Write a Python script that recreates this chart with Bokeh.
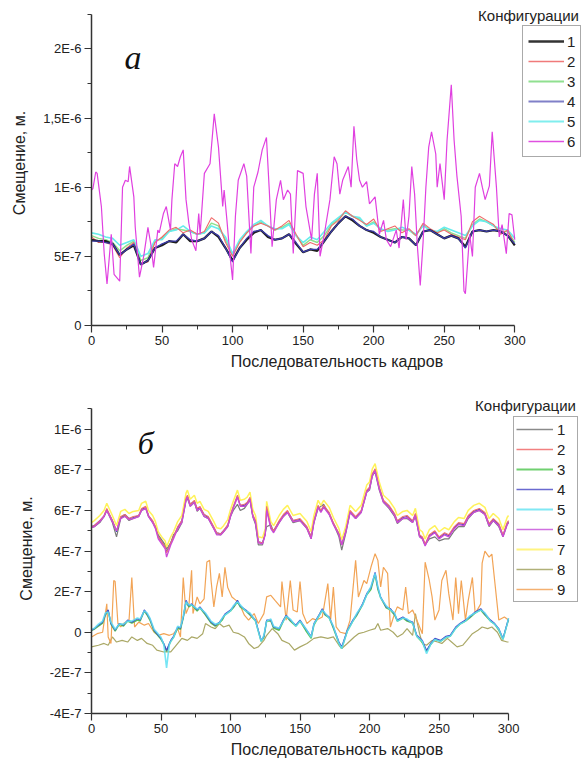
from bokeh.plotting import figure
from bokeh.models import Legend, LegendItem, Label, FixedTicker, Range1d
from bokeh.layouts import column
from bokeh.embed import file_html
from bokeh.resources import INLINE

# ---------------- DATA (values in units of 1E-7 m) ----------------
# Panel a: smooth series sampled every 5 frames
frames_a = list(range(0, 301, 5))
a_s1 = [6.2, 6.1, 6.1, 5.9, 5.1, 5.5, 5.8, 4.4, 4.7, 5.6,
        5.8, 6.1, 6.0, 6.6, 6.1, 6.1, 6.3, 6.8, 6.4, 5.6,
        4.7, 5.6, 6.2, 6.7, 6.9, 6.4, 6.2, 6.3, 6.6, 5.9,
        5.3, 5.5, 5.4, 6.1, 6.8, 7.4, 7.9, 7.6, 7.2, 6.9,
        6.7, 6.4, 6.2, 6.0, 6.4, 6.3, 5.8, 6.8, 6.9, 6.6,
        6.3, 6.5, 6.3, 5.7, 6.8, 6.9, 6.8, 6.9, 6.8, 6.5,
        5.8]
a_s2 = [6.4, 6.0, 6.0, 5.8, 4.9, 5.6, 6.0, 4.5, 4.6, 6.0,
        6.4, 6.9, 7.1, 6.7, 6.9, 6.6, 6.8, 7.8, 7.4, 6.0,
        5.0, 6.0, 6.7, 7.2, 7.4, 7.2, 6.9, 7.2, 7.6, 6.6,
        5.7, 6.0, 5.8, 6.2, 7.2, 7.6, 8.3, 7.9, 7.6, 7.3,
        7.7, 6.8, 7.0, 7.2, 6.7, 7.0, 6.5, 7.4, 7.0, 6.7,
        6.9, 6.6, 6.4, 6.2, 7.5, 7.9, 7.6, 7.3, 6.6, 6.9,
        5.8]
a_s3 = [6.5, 6.3, 6.2, 6.0, 5.4, 5.8, 6.1, 4.7, 4.9, 6.1,
        6.3, 6.8, 7.0, 6.9, 6.8, 6.6, 6.7, 7.4, 7.2, 6.2,
        5.1, 6.1, 6.7, 7.2, 7.5, 7.2, 6.9, 7.1, 7.4, 6.5,
        5.8, 6.2, 6.0, 6.5, 7.3, 7.7, 8.2, 7.9, 7.7, 7.2,
        7.5, 6.9, 6.9, 7.0, 6.9, 6.9, 6.5, 7.3, 6.9, 6.7,
        7.0, 6.7, 6.5, 6.3, 7.3, 7.7, 7.5, 7.2, 6.8, 6.8,
        6.0]
a_s4 = [6.1, 6.1, 6.0, 5.9, 5.1, 5.5, 5.9, 4.4, 4.7, 5.6,
        5.9, 6.1, 6.1, 6.6, 6.2, 6.1, 6.3, 6.8, 6.5, 5.6,
        4.6, 5.6, 6.3, 6.8, 6.9, 6.5, 6.2, 6.3, 6.6, 6.0,
        5.3, 5.5, 5.5, 6.1, 6.8, 7.4, 7.9, 7.7, 7.2, 6.9,
        6.8, 6.4, 6.2, 6.0, 6.4, 6.3, 5.8, 6.8, 6.9, 6.6,
        6.3, 6.5, 6.3, 5.6, 6.8, 6.9, 6.8, 6.9, 6.8, 6.5,
        5.9]
a_s5 = [6.7, 6.6, 6.4, 6.3, 5.8, 6.0, 6.2, 5.0, 5.2, 6.2,
        6.2, 6.8, 6.9, 7.2, 6.8, 6.6, 6.7, 7.2, 7.0, 6.4,
        5.2, 6.2, 6.8, 7.3, 7.6, 7.2, 7.0, 7.0, 7.3, 6.5,
        6.0, 6.4, 6.2, 6.8, 7.4, 7.8, 8.2, 7.9, 7.8, 7.2,
        7.4, 7.0, 6.8, 6.9, 7.1, 6.9, 6.6, 7.2, 6.9, 6.8,
        7.1, 6.9, 6.7, 6.5, 7.2, 7.6, 7.5, 7.2, 7.0, 6.9,
        6.3]
# Panel a: spiky series 6
frames_a6 = [0, 1, 3, 4, 7, 9, 11, 14, 16, 20,
             22, 24, 26, 27, 30, 31, 34, 37, 40, 42,
             44, 47, 48, 51, 53, 56, 57, 59, 61, 63,
             65, 67, 69, 71, 74, 76, 77, 80, 84, 87,
             90, 93, 94, 96, 98, 100, 102, 104, 108, 110,
             113, 115, 118, 121, 124, 126, 128, 131, 134, 136,
             139, 141, 143, 146, 150, 152, 156, 158, 160, 162,
             165, 169, 172, 174, 176, 178, 182, 184, 186, 188,
             190, 192, 195, 197, 201, 204, 207, 209, 212, 216,
             218, 221, 223, 225, 227, 229, 231, 233, 235, 237,
             239, 241, 244, 245, 247, 250, 252, 255, 257, 259,
             262, 264, 265, 268, 270, 272, 275, 277, 279, 282,
             284, 287, 289, 291, 294, 296, 298, 300]
a_s6 = [9.8, 9.9, 11.1, 11.0, 8.6, 5.2, 3.0, 6.6, 3.7, 3.2,
        10.0, 10.5, 10.4, 11.5, 9.3, 7.1, 3.5, 5.0, 7.1, 5.9,
        4.2, 6.9, 6.7, 8.1, 8.6, 6.9, 9.1, 11.7, 11.5, 12.2,
        12.7, 9.1, 7.4, 6.2, 5.4, 8.1, 6.6, 11.0, 11.7, 15.3,
        12.9, 8.6, 9.8, 7.6, 5.2, 3.3, 7.9, 10.5, 11.7, 10.8,
        5.2, 10.0, 11.1, 12.7, 13.6, 9.8, 5.7, 9.1, 10.5, 9.1,
        9.8, 9.5, 5.2, 11.2, 11.0, 8.6, 6.2, 9.5, 11.0, 5.0,
        6.6, 9.1, 12.2, 11.7, 9.5, 10.5, 11.5, 10.0, 14.4, 12.0,
        10.5, 10.0, 10.4, 8.8, 9.3, 6.6, 7.6, 6.2, 5.7, 6.9,
        5.6, 9.1, 6.2, 7.9, 11.5, 9.5, 5.7, 2.9, 6.0, 10.0,
        12.9, 14.0, 12.4, 10.0, 11.7, 9.1, 13.4, 17.4, 13.4, 10.8,
        7.9, 2.5, 2.3, 6.6, 5.0, 10.0, 11.0, 10.0, 9.1, 10.1,
        14.0, 10.0, 6.4, 7.3, 5.2, 8.1, 8.0, 6.2]

# Panel b: upper group (series 1, 2, 4, 6, 7)
frames_bu = [0, 2, 6, 9, 11, 15, 18, 21, 24, 27,
             30, 34, 36, 39, 41, 44, 46, 48, 51, 53,
             54, 57, 59, 62, 65, 68, 69, 71, 74, 76,
             78, 81, 84, 88, 90, 93, 95, 98, 100, 102,
             105, 107, 110, 112, 114, 116, 118, 120, 123, 125,
             126, 129, 131, 135, 138, 141, 145, 150, 155, 158,
             160, 163, 165, 167, 171, 174, 178, 180, 183, 186,
             190, 194, 198, 200, 202, 204, 207, 210, 214, 218,
             220, 224, 227, 231, 233, 236, 238, 240, 243, 247,
             250, 254, 257, 261, 264, 268, 271, 275, 279, 283,
             286, 289, 293, 296, 299, 300]
b_s1 = [5.15, 5.2, 5.4, 5.7, 6.0, 5.4, 4.7, 5.6, 5.75, 5.5,
        5.6, 5.7, 6.0, 6.1, 5.7, 5.4, 5.2, 4.8, 4.5, 4.3,
        4.1, 4.4, 4.8, 5.0, 5.4, 6.5, 6.6, 6.2, 6.4, 5.95,
        6.1, 5.7, 5.6, 5.1, 4.85, 4.8, 4.95, 5.2, 5.7, 6.0,
        6.3, 6.0, 6.1, 6.3, 6.5, 5.7, 5.3, 4.3, 4.3, 4.9,
        5.2, 5.3, 4.95, 5.4, 5.7, 5.9, 5.4, 5.5, 5.1, 4.6,
        5.4, 6.1, 6.2, 6.3, 5.8, 5.35, 4.7, 4.05, 4.9, 5.9,
        5.6, 5.9, 6.9, 7.0, 7.7, 7.9, 7.0, 6.4, 6.1, 5.7,
        5.35, 5.6, 5.6, 5.4, 5.7, 4.7, 4.6, 4.3, 4.6, 4.7,
        4.5, 4.6, 4.6, 5.0, 5.2, 5.2, 5.6, 5.9, 6.0, 5.8,
        5.2, 5.5, 5.2, 4.7, 5.3, 5.4]
b_s2 = [5.2, 5.26, 5.5, 5.75, 6.1, 5.5, 5.0, 5.7, 5.8, 5.6,
        5.7, 5.75, 6.1, 6.2, 5.75, 5.5, 5.2, 4.7, 4.4, 4.2,
        3.9, 4.4, 4.7, 5.2, 5.5, 6.6, 6.75, 6.3, 6.5, 6.1,
        6.2, 5.8, 5.7, 5.2, 4.9, 4.85, 5.0, 5.3, 5.8, 6.2,
        6.75, 6.25, 6.3, 6.4, 6.65, 5.8, 5.5, 4.45, 4.4, 4.85,
        6.2, 5.2, 5.0, 5.5, 5.8, 6.0, 5.5, 5.6, 5.2, 4.7,
        5.5, 6.25, 6.0, 6.25, 5.9, 5.4, 4.85, 4.3, 5.0, 6.0,
        5.7, 6.0, 7.0, 7.15, 7.8, 8.05, 7.15, 6.5, 6.25, 5.85,
        5.5, 5.7, 5.75, 5.5, 5.85, 4.8, 4.7, 4.35, 4.8, 5.0,
        4.7, 4.9, 4.8, 5.2, 5.4, 5.35, 5.75, 6.0, 6.1, 5.9,
        5.35, 5.6, 5.35, 4.8, 5.4, 5.5]
b_s4 = [5.2, 5.25, 5.5, 5.7, 6.05, 5.5, 4.95, 5.65, 5.8, 5.6,
        5.65, 5.75, 6.05, 6.15, 5.75, 5.45, 5.15, 4.7, 4.4, 4.2,
        3.95, 4.4, 4.7, 5.15, 5.5, 6.55, 6.7, 6.3, 6.45, 6.05,
        6.15, 5.8, 5.65, 5.15, 4.9, 4.85, 5.0, 5.25, 5.75, 6.15,
        6.7, 6.25, 6.25, 6.35, 6.6, 5.75, 5.45, 4.45, 4.4, 4.85,
        6.1, 5.15, 5.0, 5.45, 5.75, 5.95, 5.5, 5.55, 5.15, 4.7,
        5.45, 6.2, 5.95, 6.2, 5.85, 5.35, 4.85, 4.3, 5.0, 5.95,
        5.65, 5.95, 6.95, 7.1, 7.75, 8.0, 7.1, 6.45, 6.2, 5.8,
        5.45, 5.65, 5.7, 5.45, 5.8, 4.75, 4.65, 4.3, 4.75, 4.95,
        4.65, 4.85, 4.75, 5.15, 5.35, 5.3, 5.7, 5.95, 6.05, 5.85,
        5.3, 5.55, 5.3, 4.75, 5.35, 5.45]
b_s6 = [5.15, 5.2, 5.45, 5.7, 6.0, 5.45, 5.0, 5.6, 5.7, 5.55,
        5.6, 5.7, 6.0, 6.1, 5.7, 5.4, 5.1, 4.6, 4.3, 4.1,
        3.7, 4.3, 4.6, 5.1, 5.4, 6.5, 6.65, 6.2, 6.4, 6.0,
        6.1, 5.7, 5.6, 5.1, 4.8, 4.8, 4.95, 5.2, 5.7, 6.1,
        6.65, 6.2, 6.2, 6.3, 6.55, 5.7, 5.4, 4.4, 4.35, 4.8,
        6.0, 5.1, 4.9, 5.4, 5.7, 5.9, 5.45, 5.5, 5.1, 4.6,
        5.4, 6.15, 5.9, 6.15, 5.8, 5.3, 4.8, 4.3, 4.95, 5.9,
        5.6, 5.9, 6.9, 7.05, 7.7, 7.95, 7.05, 6.4, 6.15, 5.75,
        5.4, 5.6, 5.65, 5.4, 5.75, 4.7, 4.6, 4.25, 4.7, 4.9,
        4.6, 4.8, 4.7, 5.1, 5.3, 5.25, 5.65, 5.9, 6.0, 5.8,
        5.25, 5.5, 5.25, 4.7, 5.3, 5.4]
b_s7 = [5.4, 5.5, 5.75, 6.0, 6.35, 5.75, 5.25, 5.95, 6.05, 5.85,
        5.95, 6.0, 6.35, 6.45, 6.0, 5.75, 5.45, 4.95, 4.65, 4.5,
        4.2, 4.7, 4.95, 5.45, 5.75, 6.85, 7.0, 6.55, 6.75, 6.35,
        6.45, 6.05, 5.95, 5.45, 5.15, 5.1, 5.25, 5.55, 6.05, 6.45,
        7.0, 6.5, 6.55, 6.65, 6.9, 6.05, 5.75, 4.7, 4.65, 5.1,
        6.45, 5.45, 5.25, 5.75, 6.05, 6.25, 5.75, 5.85, 5.45, 4.95,
        5.75, 6.5, 6.25, 6.5, 6.15, 5.65, 5.1, 4.55, 5.25, 6.25,
        5.95, 6.25, 7.25, 7.4, 8.05, 8.3, 7.4, 6.75, 6.5, 6.1,
        5.75, 5.95, 6.0, 5.75, 6.1, 5.05, 4.95, 4.6, 5.05, 5.25,
        4.95, 5.15, 5.05, 5.45, 5.65, 5.6, 6.0, 6.25, 6.35, 6.15,
        5.6, 5.85, 5.6, 5.05, 5.65, 5.75]

# Panel b: lower group (series 3, 4, 5)
frames_bl = [0, 2, 5, 8, 10, 12, 14, 17, 20, 23,
             26, 29, 33, 35, 38, 40, 42, 45, 47, 50,
             52, 54, 56, 57, 59, 62, 64, 66, 68, 70,
             72, 76, 78, 82, 86, 89, 92, 94, 96, 100,
             102, 105, 107, 111, 114, 118, 122, 124, 126, 129,
             131, 135, 138, 140, 143, 147, 150, 154, 158, 160,
             164, 166, 168, 171, 174, 178, 180, 184, 188, 191,
             195, 198, 201, 204, 206, 208, 212, 215, 218, 220,
             224, 227, 231, 234, 238, 241, 244, 247, 251, 255,
             258, 262, 265, 269, 272, 276, 280, 283, 287, 290,
             293, 296, 299, 300]
b_s3 = [0.1, 0.15, 0.3, 0.45, 0.85, 1.05, 0.4, 0.05, 0.4, 0.3,
        0.55, 0.45, 0.6, 0.55, 1.05, 0.85, 0.6, 0.05, -0.1, -0.35,
        -0.6, -0.95, -0.6, -0.45, -0.25, 0.2, 0.15, 0.7, 1.5, 1.25,
        1.35, 1.05, 1.2, 0.85, 0.45, 0.3, 0.45, 0.6, 0.85, 1.05,
        1.2, 1.5, 1.25, 1.05, 0.85, 0.55, -0.45, -0.25, 0.55, 0.55,
        0.2, 0.1, 0.55, 0.8, 0.55, 0.3, 0.55, 0.1, -0.3, 0.35,
        0.85, 1.1, 0.85, 0.7, 0.2, -0.55, -0.8, 0.05, 0.55, 0.85,
        1.35, 1.85, 2.1, 2.85, 2.1, 1.7, 1.2, 1.1, 0.85, 0.55,
        0.7, 0.55, 0.45, -0.2, -0.5, -0.95, -0.6, -0.35, -0.45, -0.25,
        -0.2, 0.2, 0.4, 0.55, 0.7, 0.95, 1.1, 0.85, 0.55, 0.4,
        0.1, -0.35, 0.4, 0.6]
b_s4l = [0.1, 0.18, 0.35, 0.5, 0.9, 1.1, 0.43, 0.1, 0.43, 0.35,
         0.6, 0.5, 0.67, 0.6, 1.1, 0.9, 0.67, 0.1, -0.07, -0.3,
         -0.55, -0.9, -0.55, -0.4, -0.2, 0.26, 0.2, 0.75, 1.57, 1.3,
         1.4, 1.1, 1.25, 0.9, 0.5, 0.35, 0.5, 0.67, 0.9, 1.1,
         1.25, 1.57, 1.3, 1.1, 0.9, 0.6, -0.4, -0.2, 0.6, 0.6,
         0.26, 0.18, 0.6, 0.84, 0.6, 0.35, 0.6, 0.18, -0.2, 0.43,
         0.9, 1.16, 0.9, 0.75, 0.26, -0.48, -0.72, 0.1, 0.6, 0.9,
         1.4, 1.9, 2.2, 2.95, 2.2, 1.74, 1.25, 1.16, 0.9, 0.6,
         0.75, 0.6, 0.5, -0.15, -0.4, -0.9, -0.55, -0.3, -0.4, -0.2,
         -0.15, 0.26, 0.43, 0.6, 0.75, 1.0, 1.16, 0.9, 0.6, 0.43,
         0.18, -0.3, 0.43, 0.67]
b_s5 = [0.15, 0.2, 0.4, 0.55, 0.95, 1.0, 0.5, 0.15, 0.4, 0.4,
        0.55, 0.55, 0.7, 0.65, 1.05, 0.95, 0.7, 0.15, 0.0, -0.25,
        -0.6, -1.75, -0.6, -0.45, -0.25, 0.3, 0.25, 0.8, 1.5, 1.35,
        1.35, 1.15, 1.2, 0.95, 0.55, 0.4, 0.45, 0.7, 0.85, 1.05,
        1.3, 1.5, 1.35, 1.05, 0.95, 0.55, -0.45, -0.15, 0.55, 0.65,
        0.3, 0.2, 0.55, 0.8, 0.65, 0.3, 0.55, 0.2, -0.25, 0.4,
        0.85, 1.1, 0.95, 0.7, 0.3, -0.55, -0.8, 0.05, 0.55, 0.95,
        1.35, 1.85, 2.25, 2.9, 2.25, 1.7, 1.3, 1.1, 0.95, 0.55,
        0.7, 0.65, 0.45, -0.2, -0.45, -1.05, -0.6, -0.35, -0.45, -0.25,
        -0.2, 0.2, 0.4, 0.55, 0.8, 0.95, 1.1, 0.95, 0.55, 0.4,
        0.15, -0.35, 0.4, 0.7]

# Panel b: series 8 (olive)
frames_b8 = [0, 5, 9, 12, 15, 18, 22, 26, 29, 33,
             36, 40, 44, 47, 52, 57, 60, 65, 69, 72,
             76, 80, 82, 86, 89, 92, 95, 99, 102, 106,
             110, 113, 117, 120, 124, 126, 130, 134, 137, 142,
             146, 150, 155, 160, 165, 170, 174, 178, 180, 184,
             189, 192, 196, 200, 204, 206, 208, 213, 217, 220,
             224, 227, 231, 233, 236, 238, 241, 245, 249, 252,
             256, 259, 263, 267, 270, 274, 278, 281, 285, 288,
             292, 295, 299, 300]
b_s8 = [-0.72, -0.64, -0.55, -0.64, -0.23, -0.48, -0.4, -0.48, -0.23, -0.4,
        -0.3, -0.55, -0.64, -0.88, -0.97, -0.97, -0.72, -0.3, -0.4, -0.23,
        -0.3, -0.07, 0.43, 0.26, 0.18, 0.43, 0.26, 0.35, 0.0, -0.07,
        -0.23, -0.55, -0.8, -0.72, -0.4, -0.15, 0.18, -0.07, -0.4, -0.55,
        -0.88, -0.72, -0.55, -0.3, -0.23, -0.3, -0.23, -0.64, -0.8, -0.55,
        -0.23, -0.07, 0.0, 0.1, 0.18, 0.43, 0.1, 0.18, 0.0, -0.23,
        -0.07, 0.18, -0.15, 0.92, -0.07, -0.55, -0.64, -0.4, -0.48, -0.55,
        -0.3, -0.48, -0.72, -0.64, -0.4, -0.07, 0.1, 0.26, 0.18, 0.26,
        0.0, -0.4, -0.48, -0.48]

# Panel b: series 9 (orange, spiky)
frames_b9 = [0, 4, 8, 11, 12, 14, 16, 17, 19, 21,
             23, 27, 29, 31, 34, 38, 41, 45, 48, 52,
             56, 59, 62, 64, 66, 68, 70, 72, 73, 76,
             78, 81, 83, 85, 86, 88, 90, 92, 94, 96,
             98, 101, 104, 107, 110, 113, 117, 120, 124, 126,
             129, 132, 136, 137, 140, 143, 145, 148, 150, 152,
             155, 159, 162, 166, 170, 172, 174, 176, 179, 183,
             186, 190, 192, 196, 198, 201, 204, 206, 208, 210,
             213, 215, 218, 220, 224, 226, 228, 231, 234, 238,
             240, 243, 245, 247, 250, 252, 255, 257, 260, 262,
             264, 266, 269, 271, 274, 276, 280, 281, 283, 286,
             288, 290, 293, 297, 300]
b_s9 = [-0.23, -0.07, 0.0, 1.4, -0.23, -0.55, 2.55, 2.5, 0.43, 0.26,
        0.43, 0.6, 2.7, 0.26, 0.5, 0.35, 0.43, 0.0, -0.15, -0.07,
        -0.15, -0.07, 0.18, -0.23, 2.7, 0.92, 1.25, 3.05, 0.92, 1.74,
        1.4, 1.65, 3.46, 3.54, 2.55, 1.25, 2.23, 2.9, 1.74, 3.2,
        2.2, 1.74, 1.57, 1.3, 0.84, 0.6, 0.92, 0.43, 0.92, 1.74,
        1.82, 1.57, 1.25, 2.5, 0.6, 2.55, 1.1, 1.0, 2.5, 0.92,
        0.43, 0.67, 0.6, 0.75, 2.4, 0.6, 2.23, 0.26, 0.0, -0.07,
        0.6, 3.54, 1.74, 2.55, 2.4, 3.2, 3.87, 3.54, 2.23, 3.2,
        2.9, 0.26, 0.92, 1.25, 1.1, 2.23, 0.92, 1.1, 0.6, -0.07,
        3.45, 2.55, 1.74, 0.6, 1.1, 2.55, 3.05, 1.9, 0.6, 2.7,
        0.92, 2.55, 0.6, 1.57, 2.7, 0.92, 1.4, 3.4, 4.0, 3.7,
        3.85, 2.55, 0.6, 0.75, 0.6]

labels_a = ["1", "2", "3", "4", "5", "6"]
labels_b = ["1", "2", "3", "4", "5", "6", "7", "8", "9"]
yticks_a = [0, 5, 10, 15, 20]
ytick_labels_a = ["0", "5E-7", "1E-6", "1,5E-6", "2E-6"]
yticks_b = [-4, -2, 0, 2, 4, 6, 8, 10]
ytick_labels_b = ["-4E-7", "-2E-7", "0", "2E-7", "4E-7", "6E-7", "8E-7", "1E-6"]
xticks = [0, 50, 100, 150, 200, 250, 300]
legend_title = "Конфигурации"
x_title = "Последовательность кадров"
y_title = "Смещение, м."

for fr, vals in [(frames_a, a_s1), (frames_a, a_s2), (frames_a, a_s3), (frames_a, a_s4),
                 (frames_a, a_s5), (frames_a6, a_s6), (frames_bu, b_s1), (frames_bu, b_s2),
                 (frames_bu, b_s4), (frames_bu, b_s6), (frames_bu, b_s7), (frames_bl, b_s3),
                 (frames_bl, b_s4l), (frames_bl, b_s5), (frames_b8, b_s8), (frames_b9, b_s9)]:
    assert len(fr) == len(vals), (len(fr), len(vals))

FONT = "Liberation Sans"
AX = "#333333"
TXT = "#222222"
NAN = float("nan")


def make_fig(h, left, bottom, xmax, y0, y1, yb0, yb1, yticks, yminor, ylabels):
    p = figure(width=582, height=h, output_backend="svg", toolbar_location=None,
               x_range=Range1d(0, xmax), y_range=Range1d(y0, y1),
               min_border_left=left, min_border_right=0,
               min_border_top=0, min_border_bottom=bottom)
    p.outline_line_color = None
    p.xgrid.visible = False
    p.ygrid.visible = False
    p.background_fill_color = "white"
    p.xaxis.ticker = FixedTicker(ticks=xticks, minor_ticks=[25, 75, 125, 175, 225, 275])
    p.yaxis.ticker = FixedTicker(ticks=yticks, minor_ticks=yminor)
    p.yaxis.major_label_overrides = {t: s for t, s in zip(yticks, ylabels)}
    p.xaxis.bounds = (0, 300)
    p.yaxis.bounds = (yb0, yb1)
    for ax in (p.xaxis[0], p.yaxis[0]):
        ax.axis_line_color = AX
        ax.axis_line_width = 1.5
        ax.major_tick_line_color = AX
        ax.minor_tick_line_color = AX
        ax.major_tick_line_width = 1.2
        ax.major_tick_in = 0
        ax.major_tick_out = 7
        ax.minor_tick_in = 0
        ax.minor_tick_out = 4
        ax.major_label_text_font = FONT
        ax.major_label_text_font_size = "13px"
        ax.major_label_text_color = TXT
        ax.major_label_standoff = 3
        ax.axis_label_text_font = FONT
        ax.axis_label_text_font_size = "16px"
        ax.axis_label_text_font_style = "normal"
        ax.axis_label_text_color = TXT
    p.xaxis.axis_label = x_title
    p.yaxis.axis_label = y_title
    p.xaxis.axis_label_standoff = 5
    p.yaxis.axis_label_standoff = 12
    return p


def style_legend(leg, gw, lw, standoff, pad):
    leg.border_line_color = "#555555"
    leg.border_line_width = 1
    leg.background_fill_color = "white"
    leg.background_fill_alpha = 1.0
    leg.label_text_font = FONT
    leg.label_text_font_size = "15px"
    leg.label_text_color = TXT
    leg.glyph_width = gw
    leg.glyph_height = 20
    leg.label_height = 20
    leg.label_width = lw
    leg.label_standoff = standoff
    leg.spacing = 0
    leg.padding = pad
    leg.margin = 0


# ---------------- Panel a ----------------
pa = make_fig(383, 89, 58, 348.0, 0, 23.5, 0, 22.5, yticks_a,
              [2.5, 7.5, 12.5, 17.5, 22.5], ytick_labels_a)
cols_a = ["#1e1e1e", "#f06a6a", "#8ee08e", "#3a3aa8", "#66ecec", "#e040e0"]
widths_a = [2.2, 1.1, 1.5, 1.3, 1.6, 1.2]
leg_cols_a = ["#333333", "#f07a7a", "#90e090", "#8080c8", "#80eeee", "#e050e0"]
leg_w_a = [2.6, 1.6, 2.0, 2.0, 2.2, 1.6]
data_a = [(frames_a, a_s1), (frames_a, a_s2), (frames_a, a_s3),
          (frames_a, a_s4), (frames_a, a_s5), (frames_a6, a_s6)]
for k in [2, 4, 1, 0, 3, 5]:
    fr, vals = data_a[k]
    pa.line(fr, vals, line_color=cols_a[k], line_width=widths_a[k])
# legend swatches (one invisible NaN point, carrying only the style)
sw_a = [pa.line([NAN], [NAN], line_color=leg_cols_a[i], line_width=leg_w_a[i]) for i in range(6)]

leg_a = Legend(items=[LegendItem(label=labels_a[i], renderers=[sw_a[i]], index=0) for i in range(6)],
               location=(431, 168))
style_legend(leg_a, 36, 8, 3, 5)
pa.add_layout(leg_a)

pa.add_layout(Label(x=345.5, y=22.45, text=legend_title, text_align="right",
                    text_baseline="middle", text_font=FONT, text_font_size="15px",
                    text_color=TXT))
pa.add_layout(Label(x=29.5, y=19.4, text="а", text_align="center",
                    text_baseline="alphabetic", text_font="Liberation Serif",
                    text_font_style="italic", text_font_size="34px", text_color="#111111"))

# ---------------- Panel b ----------------
pb = make_fig(379, 91, 49, 353.2, -4, 12.25, -4, 11, yticks_b,
              [-3, -1, 1, 3, 5, 7, 9, 11], ytick_labels_b)
cols_b = ["#7a7a7a", "#f07070", "#55c455", "#4646c8", "#5ee0f2", "#cc4ad8",
          "#fff25a", "#aaa866", "#f2a456"]
widths_b = [1.2, 1.1, 1.4, 1.2, 1.6, 1.3, 1.5, 1.2, 1.2]
leg_cols_b = ["#8a8a8a", "#f28080", "#70d070", "#6a6ad0", "#80e8f4", "#d070e0",
              "#fff480", "#b0b078", "#f4b070"]
leg_w_b = [1.6, 1.6, 1.8, 1.6, 1.8, 1.6, 1.8, 1.6, 1.6]
pb.line(frames_bu, b_s4, line_color=cols_b[3], line_width=widths_b[3])
pb.line(frames_bu, b_s1, line_color=cols_b[0], line_width=widths_b[0])
pb.line(frames_bu, b_s7, line_color=cols_b[6], line_width=widths_b[6])
pb.line(frames_bu, b_s2, line_color=cols_b[1], line_width=widths_b[1])
pb.line(frames_bu, b_s6, line_color=cols_b[5], line_width=widths_b[5])
pb.line(frames_b8, b_s8, line_color=cols_b[7], line_width=widths_b[7])
pb.line(frames_b9, b_s9, line_color=cols_b[8], line_width=widths_b[8])
pb.line(frames_bl, b_s3, line_color=cols_b[2], line_width=widths_b[2])
pb.line(frames_bl, b_s4l, line_color=cols_b[3], line_width=widths_b[3])
pb.line(frames_bl, b_s5, line_color=cols_b[4], line_width=widths_b[4], line_alpha=0.85)
sw_b = [pb.line([NAN], [NAN], line_color=leg_cols_b[i], line_width=leg_w_b[i]) for i in range(9)]

leg_b = Legend(items=[LegendItem(label=labels_b[i], renderers=[sw_b[i]], index=0) for i in range(9)],
               location=(422, 111))
style_legend(leg_b, 37, 18, 4, 2)
pb.add_layout(leg_b)

pb.add_layout(Label(x=348.5, y=11.15, text=legend_title, text_align="right",
                    text_baseline="middle", text_font=FONT, text_font_size="15px",
                    text_color=TXT))
pb.add_layout(Label(x=39, y=9.3, text="б", text_align="center",
                    text_baseline="alphabetic", text_font="Liberation Serif",
                    text_font_style="italic", text_font_size="32px", text_color="#111111"))

layout = column(pa, pb)
open("out.html", "w").write(file_html(layout, INLINE))
